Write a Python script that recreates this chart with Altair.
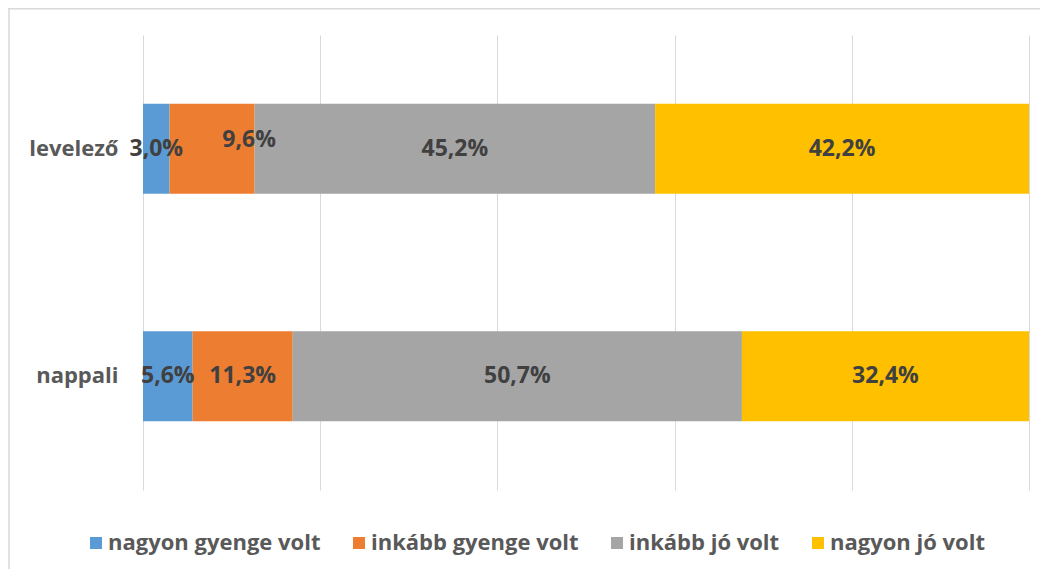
import altair as alt
import pandas as pd

categories = ["levelező", "nappali"]
responses = ["nagyon gyenge volt", "inkább gyenge volt", "inkább jó volt", "nagyon jó volt"]
levelezo_values = [3.0, 9.6, 45.2, 42.2]
nappali_values = [5.6, 11.3, 50.7, 32.4]
colors = ["#5B9BD5", "#ED7D31", "#A5A5A5", "#FFC000"]
grid_ticks = [0, 20, 40, 60, 80, 100]

rows = []
for cat, vals in zip(categories, [levelezo_values, nappali_values]):
    for i, (resp, v) in enumerate(zip(responses, vals)):
        rows.append({"kat": cat, "valasz": resp, "ertek": v, "rend": i})
df = pd.DataFrame(rows)

FONT = "Open Sans"

base = alt.Chart(df).transform_window(
    vege="sum(ertek)", groupby=["kat"], sort=[alt.SortField("rend")]
).transform_calculate(
    kezdet="datum.vege - datum.ertek",
    kozep="datum.vege - datum.ertek / 2",
    cimke="replace(format(datum.ertek, '.1f'), '.', ',') + '%'",
)

y_enc = alt.Y(
    "kat:N",
    sort=categories,
    scale=alt.Scale(paddingInner=0, paddingOuter=0),
    axis=alt.Axis(
        title=None, ticks=False, domain=False, grid=False,
        labelFont=FONT, labelFontSize=22, labelFontWeight="bold",
        labelColor="#595959", labelPadding=25,
    ),
)

bars = base.mark_bar(size=90).encode(
    x=alt.X(
        "kezdet:Q",
        scale=alt.Scale(domain=[0, 100], nice=False),
        axis=alt.Axis(
            values=grid_ticks, labels=False, ticks=False, domain=False,
            title=None, grid=True, gridColor="#D9D9D9", gridWidth=1,
        ),
    ),
    x2="vege:Q",
    y=y_enc,
    color=alt.Color(
        "valasz:N",
        scale=alt.Scale(domain=responses, range=colors),
        legend=alt.Legend(
            title=None, orient="none", legendX=-58, legendY=497,
            direction="horizontal", symbolType="square", symbolSize=144,
            symbolStrokeWidth=0, labelFont=FONT, labelFontSize=22,
            labelFontWeight="bold", labelColor="#595959",
            columnPadding=27, labelOffset=1, labelLimit=400,
        ),
    ),
    order=alt.Order("rend:Q"),
)

text_style = dict(font=FONT, fontSize=23, fontWeight="bold", color="#404040",
                  align="center", baseline="middle")

labels = base.transform_filter(
    "!(datum.kat == 'levelező' && datum.rend == 1)"
).mark_text(**text_style).encode(
    x="kozep:Q", y=alt.Y("kat:N", sort=categories), text="cimke:N"
)

moved_label = base.transform_filter(
    "datum.kat == 'levelező' && datum.rend == 1"
).mark_text(dx=37, dy=-9, **text_style).encode(
    x="kozep:Q", y=alt.Y("kat:N", sort=categories), text="cimke:N"
)

frame_data = alt.Data(values=[{"a": 1}])
left_line = alt.Chart(frame_data).mark_rule(color="#D9D9D9", strokeWidth=1.5).encode(
    x=alt.value(-134), y=alt.value(-27), y2=alt.value(534)
)
top_line = alt.Chart(frame_data).mark_rule(color="#D9D9D9", strokeWidth=1.5).encode(
    x=alt.value(-135), x2=alt.value(897), y=alt.value(-26.3)
)

chart = alt.layer(bars, labels, moved_label, left_line, top_line).properties(
    width=886,
    height=455,
    autosize=alt.AutoSizeParams(type="none"),
    padding={"left": 135, "top": 27, "right": 11, "bottom": 79},
    background="white",
).configure_view(stroke=None)

chart.save("out.html", embed_options={"renderer": "svg", "actions": False})
